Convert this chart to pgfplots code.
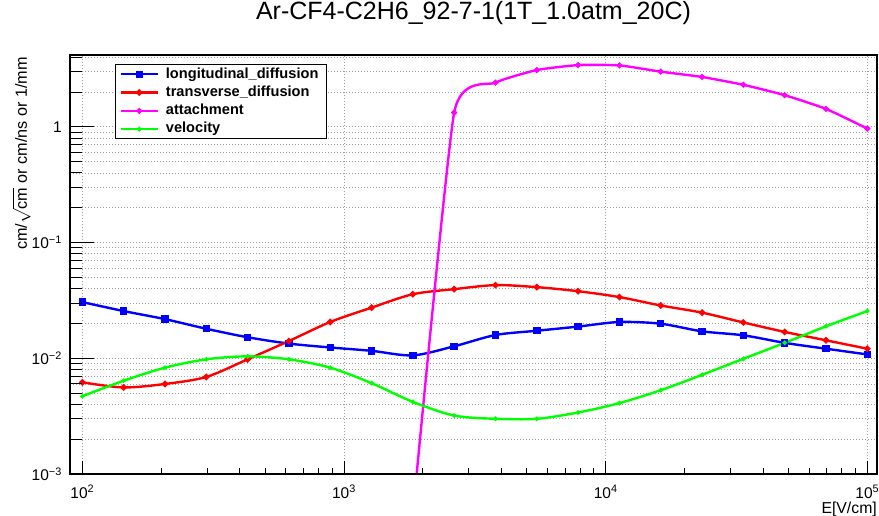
\documentclass[border=0pt]{standalone}
\usepackage{pgfplots}
\usepackage{pgfplotstable}
\pgfplotsset{compat=1.18}
\usepackage{fontspec}
\setmainfont{Liberation Sans}

\definecolor{rblue}{RGB}{0,0,255}
\definecolor{rred}{RGB}{255,0,0}
\definecolor{rmag}{RGB}{255,0,255}
\definecolor{rgreen}{RGB}{0,255,0}

% E field [V/cm], longitudinal / transverse diffusion, velocity
\pgfplotstableread{
E       long    trans   vel
100     0.0306  0.0062  0.0047
143.8   0.0256  0.0056  0.0064
206.9   0.0218  0.0060  0.0083
297.6   0.0180  0.0069  0.0098
428.1   0.0152  0.0098  0.0104
615.8   0.0134  0.0141  0.0098
885.8   0.0124  0.0206  0.0083
1274.3  0.0116  0.0274  0.0061
1832.9  0.0106  0.0358  0.0042
2636.7  0.0127  0.0396  0.0032
3792.7  0.0159  0.0429  0.0030
5455.6  0.0173  0.0412  0.0030
7847.6  0.0188  0.0380  0.0034
11288.4 0.0206  0.0338  0.0041
16237.8 0.0199  0.0286  0.0053
23357.2 0.0171  0.0248  0.0072
33598.2 0.0158  0.0204  0.0099
48329.3 0.0136  0.0169  0.0136
69519.3 0.0121  0.0143  0.0189
100000  0.0108  0.0121  0.0256
}\gasdata

% attachment (only above the cut-off)
\pgfplotstableread{
E       att
1832.9  0.00045
2636.7  1.33
3792.7  2.41
5455.6  3.10
7847.6  3.42
11288.4 3.40
16237.8 3.00
23357.2 2.70
33598.2 2.31
48329.3 1.88
69519.3 1.43
100000  0.967
}\attdata

\begin{document}
\begin{tikzpicture}
\useasboundingbox (0,0) rectangle (879pt,515pt);
\begin{axis}[
  at={(70pt,41pt)}, anchor=south west,
  scale only axis, width=807pt, height=419pt,
  xmode=log, ymode=log,
  xmin=89.7, xmax=108900, ymin=0.001, ymax=4.18,
  xtick pos=bottom, ytick pos=left, tick align=inside,
  axis line style={line width=1.3pt},
  tick style={black, line width=1pt},
  major tick length=12.6pt, minor tick length=6.3pt,
  xtick={100,1000,10000,100000},
  minor xtick={200,300,400,500,600,700,800,900,
               2000,3000,4000,5000,6000,7000,8000,9000,
               20000,30000,40000,50000,60000,70000,80000,90000},
  ytick={0.001,0.01,0.1,1},
  minor ytick={0.002,0.003,0.004,0.005,0.006,0.007,0.008,0.009,
               0.02,0.03,0.04,0.05,0.06,0.07,0.08,0.09,
               0.2,0.3,0.4,0.5,0.6,0.7,0.8,0.9,2,3,4},
  xticklabels={10\textsuperscript{2},10\textsuperscript{3},10\textsuperscript{4},10\textsuperscript{5}},
  yticklabels={10\textsuperscript{−3},10\textsuperscript{−2},10\textsuperscript{−1},1},
  xticklabel style={font=\fontsize{15.5}{17}\selectfont, anchor=base, yshift=-24pt, inner sep=0pt},
  yticklabel style={font=\fontsize{15.5}{17}\selectfont, anchor=east, xshift=-8pt, inner sep=0pt},
  xmajorgrids, ymajorgrids, yminorgrids,
  major grid style={gray!75, line width=0.8pt, dash pattern=on 1pt off 2pt},
  minor grid style={gray!75, line width=0.8pt, dash pattern=on 1pt off 2pt},
  title={Ar-CF4-C2H6\_92-7-1(1T\_1.0atm\_20C)},
  title style={font=\fontsize{25}{29}\selectfont, at={(axis description cs:0.5,1.0716)}, anchor=base, inner sep=0pt},
  xlabel={E[V/cm]},
  xlabel style={font=\fontsize{15.8}{18}\selectfont, at={(axis description cs:1,-0.094)}, anchor=base east, inner sep=0pt},
  ylabel={cm/$\sqrt{\mbox{cm}}$ or cm/ns or 1/mm},
  ylabel style={font=\fontsize{16.2}{18}\selectfont, at={(axis description cs:-0.0535,0.995)}, anchor=base east, inner sep=0pt},
  legend style={at={(axis description cs:0.0558,0.978)}, anchor=north west,
    draw=black, line width=1pt, fill=white,
    font=\fontsize{14.6}{17}\selectfont\bfseries,
    inner xsep=4pt, inner ysep=1.8pt, row sep=2.8pt, column sep=3pt,
    nodes={inner xsep=4pt, inner ysep=0.5pt, text height=11pt, text depth=3.5pt},
    cells={anchor=west}},
  legend image code/.code={\draw[#1, mark repeat=2, mark phase=2] plot coordinates {(0pt,0pt) (18.5pt,0pt) (37pt,0pt)};},
  every axis plot/.append style={line width=2.4pt, smooth},
]
\addplot[rblue, mark=square*, mark size=2.5pt] table[x=E, y=long] {\gasdata};
\addlegendentry{longitudinal\_diffusion}
\addplot[rred, mark=*, mark size=1.9pt] table[x=E, y=trans] {\gasdata};
\addlegendentry{transverse\_diffusion}
\addplot[rmag, mark=*, mark size=1.6pt, tension=0.3] table[x=E, y=att] {\attdata};
\addlegendentry{attachment}
\addplot[rgreen, mark=*, mark size=0.9pt] table[x=E, y=vel] {\gasdata};
\addlegendentry{velocity}
\end{axis}
% longer ticks on the y axis, as ROOT draws them
\begin{axis}[
  at={(70pt,41pt)}, anchor=south west,
  scale only axis, width=807pt, height=419pt,
  xmode=log, ymode=log,
  xmin=89.7, xmax=108900, ymin=0.001, ymax=4.18,
  xtick pos=bottom, ytick pos=left, tick align=inside,
  axis line style={line width=1.3pt},
  tick style={black, line width=1pt},
  major tick length=24pt, minor tick length=12pt,
  xtick=\empty,
  ytick={0.001,0.01,0.1,1},
  minor ytick={0.002,0.003,0.004,0.005,0.006,0.007,0.008,0.009,
               0.02,0.03,0.04,0.05,0.06,0.07,0.08,0.09,
               0.2,0.3,0.4,0.5,0.6,0.7,0.8,0.9,2,3,4},
  yticklabels={},
]
\end{axis}
\end{tikzpicture}
\end{document}
